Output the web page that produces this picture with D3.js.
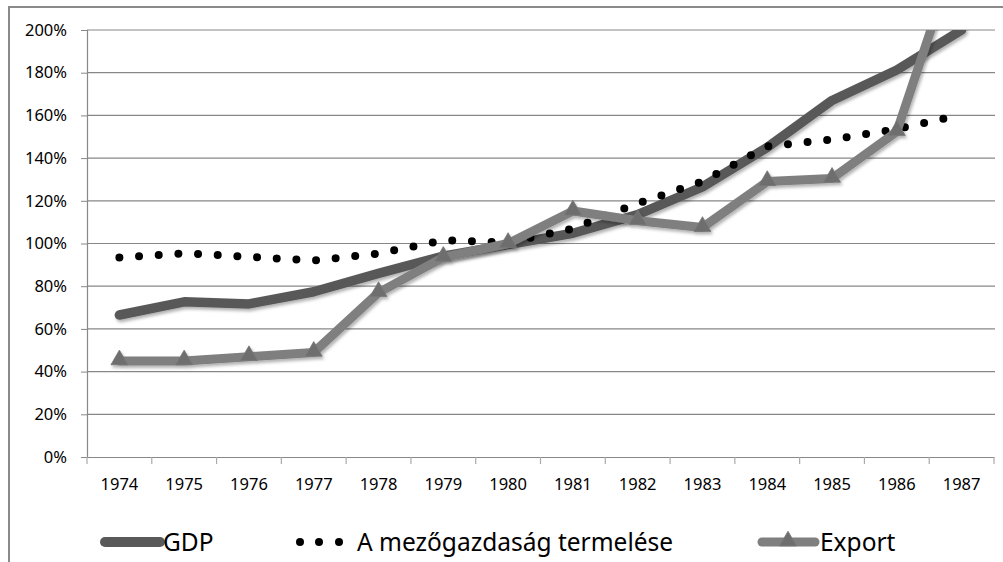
<!DOCTYPE html>
<html><head><meta charset="utf-8">
<script src="https://cdn.jsdelivr.net/npm/d3@7"></script>
<style>body{margin:0;background:#fff}svg{display:block}</style>
</head><body>
<svg id="c" width="1003" height="562"></svg>
<script>
const years = ["1974","1975","1976","1977","1978","1979","1980","1981","1982","1983","1984","1985","1986","1987"];
const gdp = [66.5,72.7,71.7,77.4,86,94.1,99.5,104.8,113.5,126.5,145,167,181.3,200];
const agri = [93.5,95.4,93.8,92,95.3,101.5,100.5,107,118.8,129,145.5,148.7,153.6,160.4];
const exportVals = [45,45,47,49,77,93.5,100,115.2,110.7,107.5,129,130.5,152.4,243];
const yTicks = [0,20,40,60,80,100,120,140,160,180,200];
const seriesNames = ["GDP","A mezőgazdaság termelése","Export"];

const svg = d3.select("#c");
const defs = svg.append("defs");
defs.append("clipPath").attr("id","plot").append("rect").attr("x",80).attr("y",30).attr("width",920).attr("height",440);
const f = defs.append("filter").attr("id","sh").attr("x","-20%").attr("y","-20%").attr("width","140%").attr("height","140%");
f.append("feDropShadow").attr("dx",1.5).attr("dy",2.5).attr("stdDeviation",1.5).attr("flood-color","#000").attr("flood-opacity",0.3);

const x = d3.scaleBand().domain(years).range([87,994]);
const y = d3.scaleLinear().domain([0,200]).range([457,30]);
const FONT = "'Noto Sans', 'Open Sans', sans-serif";

// frame
svg.append("path").attr("d","M9,562V7H1003").attr("fill","none").attr("stroke","#8a8a8a").attr("stroke-width",2);

// gridlines
svg.append("g").selectAll("line").data(yTicks.filter(d=>d>0)).join("line")
  .attr("x1",87).attr("x2",995).attr("y1",d=>y(d)).attr("y2",d=>y(d))
  .attr("stroke","#878787").attr("stroke-width",1.2);

// y axis
const ya = svg.append("g").attr("transform","translate(87,0)")
  .call(d3.axisLeft(y).tickValues(yTicks).tickSize(6).tickFormat(d=>d+"%"));
ya.select(".domain").attr("stroke","#888").attr("stroke-width",1.2).attr("d","M-6,457.5H0.5V30");
ya.selectAll(".tick line").attr("stroke","#888");
ya.selectAll(".tick text").attr("x",-20).attr("font-family",FONT).attr("font-size",16.5).attr("fill","#000");

// x axis
const xa = svg.append("g").attr("transform","translate(0,457)")
  .call(d3.axisBottom(x).tickSize(0).tickPadding(0));
xa.select(".domain").attr("stroke","#888").attr("stroke-width",1.2);
xa.selectAll(".tick text").attr("y",33).attr("dy",0).attr("font-family",FONT).attr("font-size",16.5).attr("fill","#000");
svg.append("g").selectAll("line").data(years.concat(["end"])).join("line")
  .attr("x1",(d,i)=>87+i*x.step()).attr("x2",(d,i)=>87+i*x.step())
  .attr("y1",457).attr("y2",464).attr("stroke","#aaa").attr("stroke-width",1.2);

const cx = d=>x(d)+x.bandwidth()/2;
const line = d3.line().x((d,i)=>cx(years[i])).y(d=>y(d));

const plot = svg.append("g").attr("clip-path","url(#plot)");
plot.append("path").datum(gdp).attr("d",line).attr("fill","none")
  .attr("stroke","#595959").attr("stroke-width",9.5).attr("stroke-linejoin","round").attr("stroke-linecap","round")
  .attr("filter","url(#sh)");
plot.append("path").datum(agri).attr("d",line).attr("fill","none")
  .attr("stroke","#000").attr("stroke-width",8).attr("stroke-linecap","round")
  .attr("stroke-dasharray","0 19.7");
const eg = plot.append("g").attr("filter","url(#sh)");
eg.append("path").datum(exportVals).attr("d",line).attr("fill","none")
  .attr("stroke","#7f7f7f").attr("stroke-width",9).attr("stroke-linejoin","round").attr("stroke-linecap","round");
const tri = d3.symbol().type(d3.symbolTriangle).size(125);
eg.selectAll("path.m").data(exportVals).join("path").attr("class","m")
  .attr("d",tri).attr("transform",(d,i)=>`translate(${cx(years[i])},${y(d)-1})`)
  .attr("fill","#6e6e6e").attr("stroke","#777").attr("stroke-width",0.8);

// legend
const lg = svg.append("g");
const LY = 542;
lg.append("line").attr("x1",105).attr("x2",160).attr("y1",LY).attr("y2",LY)
  .attr("stroke","#595959").attr("stroke-width",10).attr("stroke-linecap","round");
lg.append("text").attr("x",163).attr("y",LY+9).text(seriesNames[0]);
lg.selectAll("circle").data([300,319,339]).join("circle").attr("cx",d=>d).attr("cy",LY).attr("r",4).attr("fill","#000");
lg.append("text").attr("x",357).attr("y",LY+9).text(seriesNames[1]);
lg.append("line").attr("x1",762).attr("x2",815).attr("y1",LY).attr("y2",LY)
  .attr("stroke","#7f7f7f").attr("stroke-width",9).attr("stroke-linecap","round");
lg.append("path").attr("d",tri).attr("transform",`translate(788,${LY-1})`).attr("fill","#6e6e6e").attr("stroke","#777").attr("stroke-width",0.8);
lg.append("text").attr("x",820).attr("y",LY+9).text(seriesNames[2]);
lg.selectAll("text").attr("font-family",FONT).attr("font-size",24.5).attr("fill","#000");
</script>
</body></html>
